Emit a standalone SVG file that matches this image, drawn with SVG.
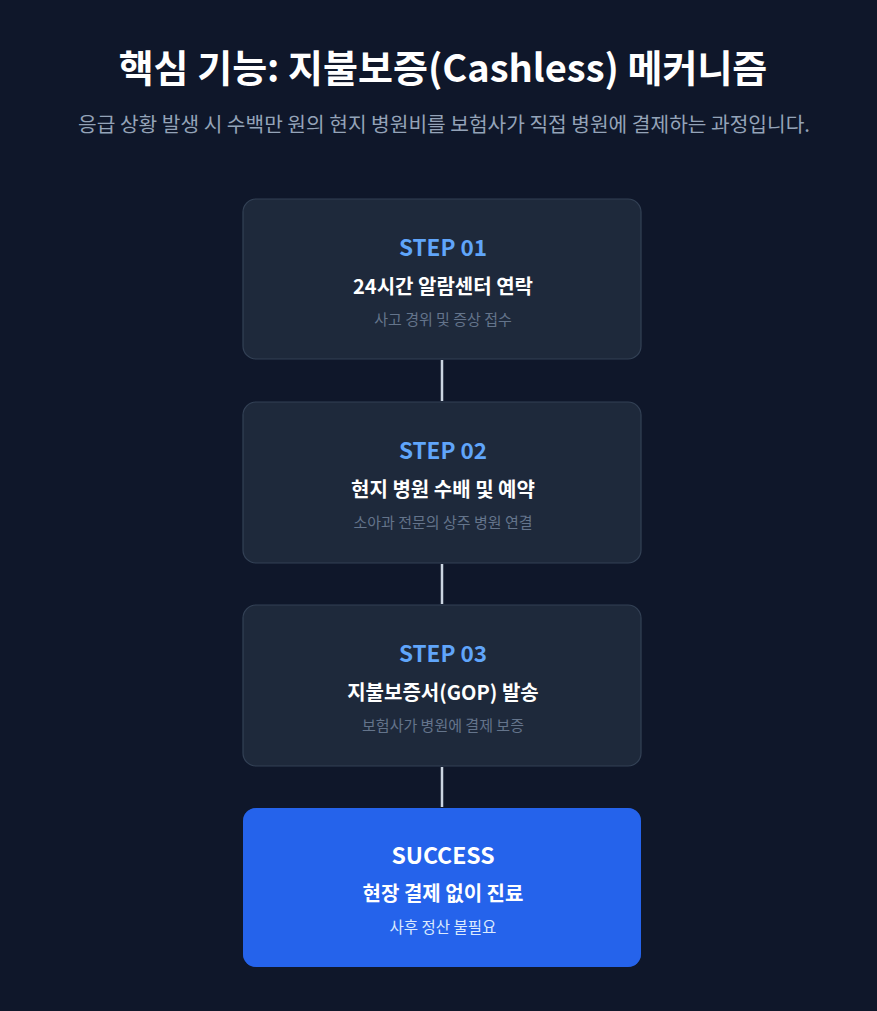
<svg xmlns="http://www.w3.org/2000/svg" width="877" height="1011" viewBox="0 0 877 1011">
<style>
text{font-family:"Noto Sans CJK KR","Noto Sans",sans-serif;text-anchor:middle}
.title{font-size:38px;font-weight:700;fill:#ffffff}
.subtitle{font-size:20.3px;fill:#94a3b8}
.box{fill:#1e293b;stroke:#334155;stroke-width:1.2}
.step{font-size:22.5px;font-weight:700;fill:#60a5fa}
.head{font-size:20px;font-weight:700;fill:#ffffff}
.desc{font-size:15px;fill:#64748b}
.conn{stroke:#cbd5e1;stroke-width:2.5}
</style>
<defs>
<filter id="glow" x="-20%" y="-30%" width="140%" height="160%">
<feGaussianBlur in="SourceAlpha" stdDeviation="9"/>
<feOffset dy="6"/>
<feComponentTransfer><feFuncA type="linear" slope="0.35"/></feComponentTransfer>
<feFlood flood-color="#2563eb"/>
<feComposite operator="in" in2="SourceAlpha"/>
</filter>
</defs>
<rect width="877" height="1011" fill="#0f172a"/>
<text class="title" x="443" y="82">핵심 기능: 지불보증(Cashless) 메커니즘</text>
<text class="subtitle" x="444" y="132">응급 상황 발생 시 수백만 원의 현지 병원비를 보험사가 직접 병원에 결제하는 과정입니다.</text>
<g id="connectors">
<line class="conn" x1="442" y1="360" x2="442" y2="401"/>
<line class="conn" x1="442" y1="564" x2="442" y2="604"/>
<line class="conn" x1="442" y1="767" x2="442" y2="807"/>
</g>
<g id="step1">
<rect class="box" x="243" y="199" width="398" height="160" rx="13"/>
<text class="step" x="443" y="256">STEP 01</text>
<text class="head" x="443" y="294">24시간 알람센터 연락</text>
<text class="desc" x="443" y="325">사고 경위 및 증상 접수</text>
</g>
<g id="step2">
<rect class="box" x="243" y="402" width="398" height="161" rx="13"/>
<text class="step" x="443" y="459">STEP 02</text>
<text class="head" x="443" y="497">현지 병원 수배 및 예약</text>
<text class="desc" x="443" y="528">소아과 전문의 상주 병원 연결</text>
</g>
<g id="step3">
<rect class="box" x="243" y="605" width="398" height="161" rx="13"/>
<text class="step" x="443" y="662">STEP 03</text>
<text class="head" x="443" y="700">지불보증서(GOP) 발송</text>
<text class="desc" x="443" y="731">보험사가 병원에 결제 보증</text>
</g>
<g id="success">
<rect x="243" y="808" width="398" height="159" rx="13" fill="#2563eb" opacity="0.5" filter="url(#glow)"/>
<rect x="243" y="808" width="398" height="159" rx="13" fill="#2563eb"/>
<text x="443" y="864" style="font-size:23px;font-weight:700;fill:#ffffff">SUCCESS</text>
<text class="head" x="443" y="901">현장 결제 없이 진료</text>
<text x="443" y="933" style="font-size:15.5px;fill:#dbeafe">사후 정산 불필요</text>
</g>
</svg>
